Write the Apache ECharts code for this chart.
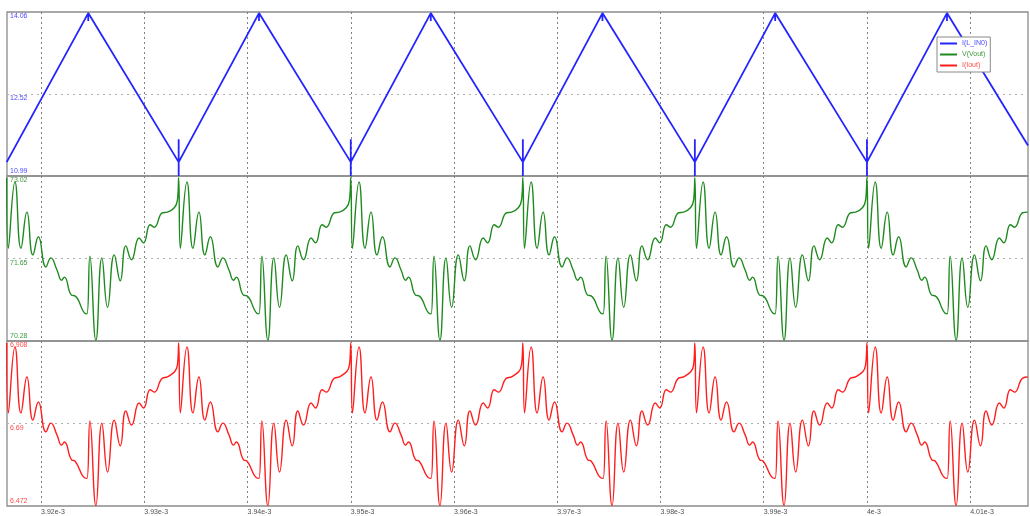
<!DOCTYPE html>
<html><head><meta charset="utf-8">
<script src="https://cdn.jsdelivr.net/npm/echarts@6/dist/echarts.min.js"></script>
<style>html,body{margin:0;padding:0;background:#fff}#c{width:1030px;height:516px}</style>
</head><body><div id="c"></div>
<script>
// time axis in microseconds, labels in seconds
const xMin = 3916.7, xMax = 4015.6;
const xTickValues = [3920, 3930, 3940, 3950, 3960, 3970, 3980, 3990, 4000, 4010];
const xTickLabels = ['3.92e-3', '3.93e-3', '3.94e-3', '3.95e-3', '3.96e-3', '3.97e-3', '3.98e-3', '3.99e-3', '4e-3', '4.01e-3'];

const iLTickValues = [10.99, 12.525, 14.06];
const iLTickLabels = ['10.99', '12.52', '14.06'];
const vTickValues = [70.28, 71.65, 73.02];
const vTickLabels = ['70.28', '71.65', '73.02'];
const ioTickValues = [6.472, 6.69, 6.908];
const ioTickLabels = ['6.472', '6.69', '6.908'];

const seriesNames = ['I(L_IN0)', 'V(Vout)', 'I(Iout)'];

// I(L_IN0): triangle with small spikes at the turning points
const iLTime = [3916.67,
  3924.57, 3924.57, 3924.57,
  3933.33, 3933.33, 3933.33, 3933.33,
  3941.11, 3941.11, 3941.11,
  3950.00, 3950.00, 3950.00, 3950.00,
  3957.75, 3957.75, 3957.75,
  3966.67, 3966.67, 3966.67, 3966.67,
  3974.38, 3974.38, 3974.38,
  3983.33, 3983.33, 3983.33, 3983.33,
  3991.11, 3991.11, 3991.11,
  4000.00, 4000.00, 4000.00, 4000.00,
  4007.75, 4007.75, 4007.75,
  4015.60];
const iLValue = [11.25,
  14.04, 13.89, 14.04,
  11.25, 10.99, 11.68, 11.25,
  14.04, 13.89, 14.04,
  11.25, 10.99, 11.68, 11.25,
  14.04, 13.89, 14.04,
  11.25, 10.99, 11.68, 11.25,
  14.04, 13.89, 14.04,
  11.25, 10.99, 11.68, 11.25,
  14.04, 13.89, 14.04,
  11.25, 10.99, 11.68, 11.25,
  14.04, 13.89, 14.04,
  11.56];

// shared time base for V(Vout) and I(Iout)
const vTime = [
  3916.67, 3916.83, 3917.47, 3918.05, 3918.63, 3919.21, 3919.74, 3920.47, 3920.95, 3921.54, 3921.99, 3922.25, 3922.96, 3923.28, 3924.24, 3924.44, 3924.73, 3925.31, 3925.89, 3926.44, 3927.09, 3927.67, 3928.21, 3928.76, 3929.50, 3929.92, 3930.57, 3930.95, 3931.76, 3932.24, 3933.21,
  3933.33, 3933.49, 3934.13, 3934.71, 3935.29, 3935.87, 3936.40, 3937.13, 3937.61, 3938.20, 3938.65, 3938.91, 3939.62, 3939.94, 3940.90, 3941.10, 3941.39, 3941.97, 3942.55, 3943.10, 3943.75, 3944.33, 3944.87, 3945.42, 3946.16, 3946.58, 3947.23, 3947.61, 3948.42, 3948.90, 3949.87,
  3950.00, 3950.16, 3950.80, 3951.38, 3951.96, 3952.54, 3953.07, 3953.80, 3954.28, 3954.87, 3955.32, 3955.58, 3956.29, 3956.61, 3957.57, 3957.77, 3958.06, 3958.64, 3959.22, 3959.77, 3960.42, 3961.00, 3961.54, 3962.09, 3962.83, 3963.25, 3963.90, 3964.28, 3965.09, 3965.57, 3966.54,
  3966.67, 3966.83, 3967.47, 3968.05, 3968.63, 3969.21, 3969.74, 3970.47, 3970.95, 3971.54, 3971.99, 3972.25, 3972.96, 3973.28, 3974.24, 3974.44, 3974.73, 3975.31, 3975.89, 3976.44, 3977.09, 3977.67, 3978.21, 3978.76, 3979.50, 3979.92, 3980.57, 3980.95, 3981.76, 3982.24, 3983.21,
  3983.33, 3983.49, 3984.13, 3984.71, 3985.29, 3985.87, 3986.40, 3987.13, 3987.61, 3988.20, 3988.65, 3988.91, 3989.62, 3989.94, 3990.90, 3991.10, 3991.39, 3991.97, 3992.55, 3993.10, 3993.75, 3994.33, 3994.87, 3995.42, 3996.16, 3996.58, 3997.23, 3997.61, 3998.42, 3998.90, 3999.87,
  4000.00, 4000.16, 4000.80, 4001.38, 4001.96, 4002.54, 4003.07, 4003.80, 4004.28, 4004.87, 4005.32, 4005.58, 4006.29, 4006.61, 4007.57, 4007.77, 4008.06, 4008.64, 4009.22, 4009.77, 4010.42, 4011.00, 4011.54, 4012.09, 4012.83, 4013.25, 4013.90, 4014.28, 4015.09, 4015.57
];
const vOut = [
  72.99, 71.82, 72.92, 71.82, 72.42, 71.71, 72.01, 71.51, 71.66, 71.46, 71.29, 71.34, 71.04, 71.03, 70.74, 70.73, 71.69, 70.29, 71.66, 70.84, 71.71, 71.28, 71.86, 71.63, 71.99, 71.91, 72.21, 72.17, 72.41, 72.42, 72.62,
  72.99, 71.82, 72.92, 71.82, 72.42, 71.71, 72.01, 71.51, 71.66, 71.46, 71.29, 71.34, 71.04, 71.03, 70.74, 70.73, 71.69, 70.29, 71.66, 70.84, 71.71, 71.28, 71.86, 71.63, 71.99, 71.91, 72.21, 72.17, 72.41, 72.42, 72.62,
  72.99, 71.82, 72.92, 71.82, 72.42, 71.71, 72.01, 71.51, 71.66, 71.46, 71.29, 71.34, 71.04, 71.03, 70.74, 70.73, 71.69, 70.29, 71.66, 70.84, 71.71, 71.28, 71.86, 71.63, 71.99, 71.91, 72.21, 72.17, 72.41, 72.42, 72.62,
  72.99, 71.82, 72.92, 71.82, 72.42, 71.71, 72.01, 71.51, 71.66, 71.46, 71.29, 71.34, 71.04, 71.03, 70.74, 70.73, 71.69, 70.29, 71.66, 70.84, 71.71, 71.28, 71.86, 71.63, 71.99, 71.91, 72.21, 72.17, 72.41, 72.42, 72.62,
  72.99, 71.82, 72.92, 71.82, 72.42, 71.71, 72.01, 71.51, 71.66, 71.46, 71.29, 71.34, 71.04, 71.03, 70.74, 70.73, 71.69, 70.29, 71.66, 70.84, 71.71, 71.28, 71.86, 71.63, 71.99, 71.91, 72.21, 72.17, 72.41, 72.42, 72.62,
  72.99, 71.82, 72.92, 71.82, 72.42, 71.71, 72.01, 71.51, 71.66, 71.46, 71.29, 71.34, 71.04, 71.03, 70.74, 70.73, 71.69, 70.29, 71.66, 70.84, 71.71, 71.28, 71.86, 71.63, 71.99, 71.91, 72.21, 72.17, 72.41, 72.42
];
const iOut = [
  6.903, 6.718, 6.892, 6.718, 6.813, 6.699, 6.747, 6.668, 6.691, 6.660, 6.633, 6.641, 6.594, 6.591, 6.546, 6.545, 6.697, 6.473, 6.691, 6.562, 6.699, 6.631, 6.723, 6.686, 6.744, 6.731, 6.779, 6.773, 6.810, 6.813, 6.845,
  6.903, 6.718, 6.892, 6.718, 6.813, 6.699, 6.747, 6.668, 6.691, 6.660, 6.633, 6.641, 6.594, 6.591, 6.546, 6.545, 6.697, 6.473, 6.691, 6.562, 6.699, 6.631, 6.723, 6.686, 6.744, 6.731, 6.779, 6.773, 6.810, 6.813, 6.845,
  6.903, 6.718, 6.892, 6.718, 6.813, 6.699, 6.747, 6.668, 6.691, 6.660, 6.633, 6.641, 6.594, 6.591, 6.546, 6.545, 6.697, 6.473, 6.691, 6.562, 6.699, 6.631, 6.723, 6.686, 6.744, 6.731, 6.779, 6.773, 6.810, 6.813, 6.845,
  6.903, 6.718, 6.892, 6.718, 6.813, 6.699, 6.747, 6.668, 6.691, 6.660, 6.633, 6.641, 6.594, 6.591, 6.546, 6.545, 6.697, 6.473, 6.691, 6.562, 6.699, 6.631, 6.723, 6.686, 6.744, 6.731, 6.779, 6.773, 6.810, 6.813, 6.845,
  6.903, 6.718, 6.892, 6.718, 6.813, 6.699, 6.747, 6.668, 6.691, 6.660, 6.633, 6.641, 6.594, 6.591, 6.546, 6.545, 6.697, 6.473, 6.691, 6.562, 6.699, 6.631, 6.723, 6.686, 6.744, 6.731, 6.779, 6.773, 6.810, 6.813, 6.845,
  6.903, 6.718, 6.892, 6.718, 6.813, 6.699, 6.747, 6.668, 6.691, 6.660, 6.633, 6.641, 6.594, 6.591, 6.546, 6.545, 6.697, 6.473, 6.691, 6.562, 6.699, 6.631, 6.723, 6.686, 6.744, 6.731, 6.779, 6.773, 6.810, 6.813
];

const colors = ['#2424ff', '#1f8a1f', '#ff1e1e'];
const labelColors = ['#4a4aff', '#3d9a3d', '#ff4a4a'];
const FONT = 'Liberation Sans';

function pairs(xs, ys) { return xs.map((x, i) => [x, ys[i]]); }
function pick(vals, labs, v) {
  let best = 0, d = Infinity;
  vals.forEach((t, i) => { const e = Math.abs(t - v); if (e < d) { d = e; best = i; } });
  return { idx: best, text: labs[best] };
}

const grids = [
  { left: 7, right: 2, top: 12, height: 164 },
  { left: 7, right: 2, top: 176, height: 165 },
  { left: 7, right: 2, top: 341, height: 165 }
].map(g => Object.assign(g, { show: true, borderColor: '#8c8c8c', borderWidth: 1.3, backgroundColor: 'transparent' }));

const xAxes = [0, 1, 2].map(i => ({
  type: 'value', gridIndex: i, min: xMin, max: xMax,
  axisLine: { show: false },
  axisTick: { show: false, customValues: xTickValues },
  splitLine: { show: true, lineStyle: { type: [2, 3], color: '#808080', width: 1 } },
  axisLabel: {
    show: i === 2, customValues: xTickValues, align: 'left', verticalAlign: 'top', margin: 3,
    fontSize: 7, fontFamily: FONT, color: '#505050',
    formatter: v => pick(xTickValues, xTickLabels, v).text
  }
}));

const yDefs = [
  [iLTickValues, iLTickLabels], [vTickValues, vTickLabels], [ioTickValues, ioTickLabels]
];
const yAxes = yDefs.map(([vals, labs], i) => ({
  type: 'value', gridIndex: i, min: vals[0], max: vals[2],
  axisLine: { show: false },
  axisTick: { show: false, customValues: [vals[1]] },
  splitLine: { show: true, lineStyle: { type: [2, 4], color: '#b0b0b0', width: 1 } },
  axisLabel: {
    inside: true, margin: 3, customValues: vals,
    fontSize: 7, fontFamily: FONT, color: labelColors[i],
    formatter: v => { const p = pick(vals, labs, v); return (p.idx === 0 ? '{b|' : '{t|') + p.text + '}'; },
    rich: { t: { padding: [9, 0, 0, 0] }, b: { padding: [0, 0, 9, 0] } }
  }
}));

const series = [
  { name: seriesNames[0], type: 'line', xAxisIndex: 0, yAxisIndex: 0, data: pairs(iLTime, iLValue),
    showSymbol: false, lineStyle: { color: colors[0], width: 1.8 }, itemStyle: { color: colors[0] } },
  { name: seriesNames[1], type: 'line', xAxisIndex: 1, yAxisIndex: 1, data: pairs(vTime, vOut),
    showSymbol: false, smooth: 0.5, lineStyle: { color: colors[1], width: 1.4 }, itemStyle: { color: colors[1] } },
  { name: seriesNames[2], type: 'line', xAxisIndex: 2, yAxisIndex: 2, data: pairs(vTime, iOut),
    showSymbol: false, smooth: 0.5, lineStyle: { color: colors[2], width: 1.4 }, itemStyle: { color: colors[2] } }
];

const chart = echarts.init(document.getElementById('c'), null, { renderer: 'canvas' });
chart.setOption({
  animation: false,
  backgroundColor: '#ffffff',
  grid: grids, xAxis: xAxes, yAxis: yAxes, series: series,
  legend: {
    orient: 'vertical', left: 937, top: 37,
    backgroundColor: '#ffffff', borderColor: '#8a8a8a', borderWidth: 1,
    padding: [3, 3, 3, 3], itemGap: 4, itemWidth: 17, itemHeight: 2, icon: 'rect',
    textStyle: { fontSize: 7, fontFamily: FONT },
    data: seriesNames.map((n, i) => ({ name: n, textStyle: { color: labelColors[i] } }))
  }
});
</script>
</body></html>
